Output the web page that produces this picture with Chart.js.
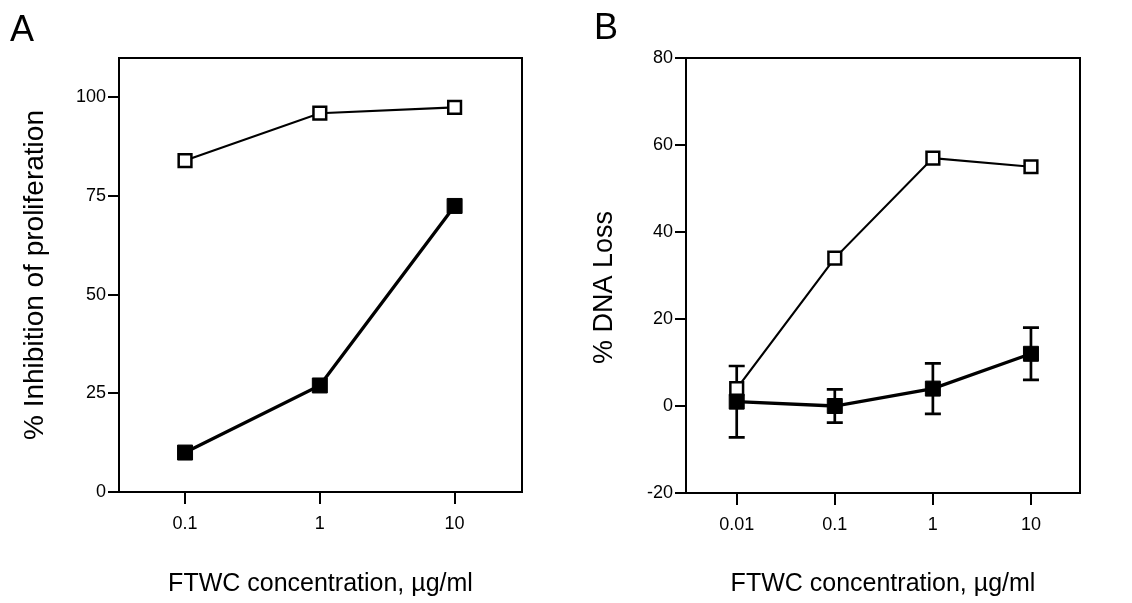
<!DOCTYPE html>
<html><head><meta charset="utf-8">
<script src="https://cdn.jsdelivr.net/npm/chart.js@4.4.0/dist/chart.umd.min.js"></script>
<style>
html,body{margin:0;padding:0;background:#fff;width:1132px;height:603px;overflow:hidden;}
#a{position:absolute;left:0;top:0;}
#b{position:absolute;left:560px;top:0;}
.lbl{position:absolute;font-family:"Liberation Sans",Arial,Helvetica,sans-serif;font-size:36px;color:#000;line-height:1;}
</style></head><body>
<canvas id="a" width="560" height="603"></canvas>
<canvas id="b" width="572" height="603"></canvas>
<div class="lbl" style="left:10px;top:11px">A</div>
<div class="lbl" style="left:594px;top:9px">B</div>
<script>
// ---- data ----
const concA = [0.1, 1, 10];
const openA = [84, 96, 97.5];
const filledA = [10, 27, 72.5];
const yTicksA = [0, 25, 50, 75, 100];

const concB = [0.01, 0.1, 1, 10];
const openB = [4, 34, 57, 55];
const filledB = [1, 0, 4, 12];
const errB = [8.2, 3.8, 5.8, 6];
const yTicksB = [-20, 0, 20, 40, 60, 80];

const xTitle = 'FTWC concentration, µg/ml';
const yTitleA = '% Inhibition of proliferation';
const yTitleB = '% DNA Loss';

const FONT = '"Liberation Sans", Arial, Helvetica, sans-serif';
function pts(xs, ys){ return xs.map((x,i)=>({x:x, y:ys[i]})); }

const boxPlugin = {
  id:'box',
  beforeDatasetsDraw(chart){
    const {ctx, chartArea:a} = chart;
    ctx.save(); ctx.strokeStyle='#000'; ctx.lineWidth=2;
    ctx.strokeRect(a.left, a.top, a.right-a.left, a.bottom-a.top);
    ctx.restore();
  }
};

const errPlugin = {
  id:'err',
  beforeDatasetsDraw(chart){
    const {ctx, scales:{x, y}} = chart;
    ctx.save(); ctx.strokeStyle='#000'; ctx.lineWidth=2.7;
    concB.forEach((c,i)=>{
      const px = x.getPixelForValue(c);
      const t = y.getPixelForValue(filledB[i]+errB[i]);
      const b = y.getPixelForValue(filledB[i]-errB[i]);
      ctx.beginPath();
      ctx.moveTo(px, t); ctx.lineTo(px, b);
      ctx.moveTo(px-8, t); ctx.lineTo(px+8, t);
      ctx.moveTo(px-8, b); ctx.lineTo(px+8, b);
      ctx.stroke();
    });
    ctx.restore();
  }
};

const yTitleBPlugin = {
  id:'ytb',
  afterDraw(chart){
    const ctx = chart.ctx; ctx.save();
    ctx.translate(44.5, 287.5); ctx.rotate(-Math.PI/2);
    ctx.font = '27px ' + FONT; ctx.fillStyle = '#000';
    ctx.textAlign = 'center'; ctx.textBaseline = 'middle';
    ctx.fillText(yTitleB, 0, 0);
    ctx.restore();
  }
};

function makeChart(id, conc, open, filled, yTicks, o, plugins){
  return new Chart(document.getElementById(id), {
    type:'line',
    data:{ datasets:[
      {data:pts(conc, filled), borderColor:'#000', borderWidth:3.3, pointStyle:'rect', pointRadius:10.6,
       pointBackgroundColor:'#000', pointBorderColor:'#000', pointBorderWidth:1, order:0, tension:0},
      {data:pts(conc, open), borderColor:'#000', borderWidth:2.2, pointStyle:'rect', pointRadius:9,
       pointBackgroundColor:'#fff', pointBorderColor:'#000', pointBorderWidth:2.5, order:1, tension:0}
    ]},
    options:{
      responsive:false, animation:false, devicePixelRatio:1,
      layout:{padding:{top:58, right:o.padRight, bottom:0, left:0}},
      plugins:{legend:{display:false}, tooltip:{enabled:false}},
      scales:{
        x:{type:'logarithmic', min:o.xmin, max:o.xmax,
          afterBuildTicks:s=>{ s.ticks = conc.map(v=>({value:v})); },
          afterFit:s=>{ s.height = o.xh; },
          grid:{display:true, drawOnChartArea:false, drawTicks:true, tickLength:12, color:'#000', lineWidth:2},
          border:{display:false},
          ticks:{color:'#000', font:{family:FONT, size:18}, padding:9, autoSkip:false, maxRotation:0,
                 callback:v=>String(v)},
          title:{display:true, text:xTitle, color:'#000', font:{family:FONT, size:25, lineHeight:1},
                 padding:{top:0, bottom:6.5}}
        },
        y:{type:'linear', min:o.ymin, max:o.ymax,
          afterBuildTicks:s=>{ s.ticks = yTicks.map(v=>({value:v})); },
          afterFit:s=>{ s.width = o.yw; },
          grid:{display:true, drawOnChartArea:false, drawTicks:true, tickLength:11, color:'#000', lineWidth:2},
          border:{display:false},
          ticks:{color:'#000', font:{family:FONT, size:18}, padding:2, autoSkip:false},
          title:{display:o.yTitle!=null, text:o.yTitle || '', color:'#000', font:{family:FONT, size:28, lineHeight:1},
                 padding:{top:21, bottom:0}}
        }
      }
    },
    plugins: plugins
  });
}

makeChart('a', concA, openA, filledA, yTicksA,
  {padRight:38, xmin:Math.pow(10,-1.49), xmax:Math.pow(10,1.5), xh:111, ymin:0, ymax:110, yw:119, yTitle:yTitleA},
  [boxPlugin]);
makeChart('b', concB, openB, filledB, yTicksB,
  {padRight:52, xmin:Math.pow(10,-2.517), xmax:Math.pow(10,1.5), xh:110, ymin:-20, ymax:80, yw:126, yTitle:null},
  [boxPlugin, errPlugin, yTitleBPlugin]);
</script>
</body></html>
